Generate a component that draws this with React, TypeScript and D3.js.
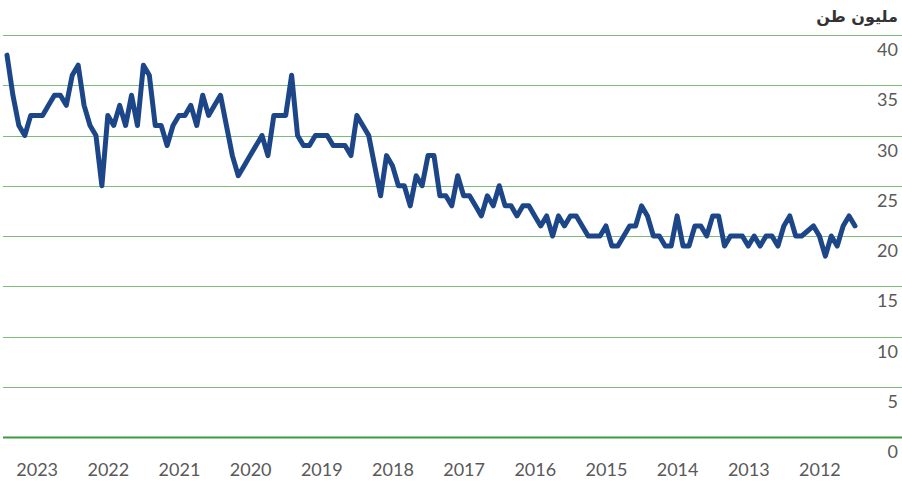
import React, { useEffect, useRef } from "react";
import * as d3 from "d3";

// monthly values, newest first: Dec 2023 back to Jan 2012 (million tonnes)
const monthlyTonnes = [
  38, 34, 31, 30, 32, 32, 32, 33, 34, 34,
  33, 36, 37, 33, 31, 30, 25, 32, 31, 33,
  31, 34, 31, 37, 36, 31, 31, 29, 31, 32,
  32, 33, 31, 34, 32, 33, 34, 31, 28, 26,
  27, 28, 29, 30, 28, 32, 32, 32, 36, 30,
  29, 29, 30, 30, 30, 29, 29, 29, 28, 32,
  31, 30, 27, 24, 28, 27, 25, 25, 23, 26,
  25, 28, 28, 24, 24, 23, 26, 24, 24, 23,
  22, 24, 23, 25, 23, 23, 22, 23, 23, 22,
  21, 22, 20, 22, 21, 22, 22, 21, 20, 20,
  20, 21, 19, 19, 20, 21, 21, 23, 22, 20,
  20, 19, 19, 22, 19, 19, 21, 21, 20, 22,
  22, 19, 20, 20, 20, 19, 20, 19, 20, 20,
  19, 21, 22, 20, 20, 20.5, 21, 20, 18, 20,
  19, 21, 22, 21,
];

const lastYear = 2023;
const yearLabels = [2023, 2022, 2021, 2020, 2019, 2018, 2017, 2016, 2015, 2014, 2013, 2012];
const yTicks = [0, 5, 10, 15, 20, 25, 30, 35, 40];
const unitLabel = "مليون طن";

const W = 902;
const H = 481;

export default function App() {
  const svgRef = useRef<SVGSVGElement>(null);

  useEffect(() => {
    const svg = d3.select(svgRef.current);
    svg.selectAll("*").remove();

    const numFont = "Lato, 'Open Sans', sans-serif";

    // x runs right-to-left in time: index 0 (newest) on the left
    const x = d3.scaleLinear()
      .domain([0, monthlyTonnes.length - 1])
      .range([7, 855]);

    const y = d3.scaleLinear()
      .domain([0, 40])
      .range([437, 35]);

    // gridlines
    svg.append("g")
      .selectAll("line")
      .data(yTicks)
      .enter()
      .append("line")
      .attr("x1", 3)
      .attr("x2", W)
      .attr("y1", d => Math.round(y(d)) + 0.5)
      .attr("y2", d => Math.round(y(d)) + 0.5)
      .attr("stroke", d => (d === 0 ? "#3f9b3c" : "#7bbd76"))
      .attr("stroke-width", d => (d === 0 ? 2 : 1));

    // y labels, right side, below their line
    svg.append("g")
      .selectAll("text")
      .data(yTicks)
      .enter()
      .append("text")
      .attr("x", 898)
      .attr("y", d => y(d) + 21)
      .attr("text-anchor", "end")
      .style("font-family", numFont)
      .style("font-size", "18px")
      .style("fill", "#595959")
      .text(d => d);

    // x axis: year labels at mid-year (July)
    const xAxis = d3.axisBottom(x)
      .tickValues(yearLabels.map(yr => (lastYear - yr) * 12 + 5))
      .tickFormat((d, i) => String(yearLabels[i]))
      .tickSize(0)
      .tickPadding(0);

    const xg = svg.append("g")
      .attr("transform", "translate(0,462)")
      .call(xAxis);
    xg.select(".domain").remove();
    xg.selectAll("text")
      .attr("dy", "0.75em")
      .style("font-family", numFont)
      .style("font-size", "18px")
      .style("fill", "#595959");

    // unit title
    svg.append("text")
      .attr("x", 898)
      .attr("y", 22)
      .attr("text-anchor", "end")
      .style("font-family", "'DejaVu Sans', sans-serif")
      .style("font-size", "16px")
      .style("font-weight", "bold")
      .style("fill", "#333")
      .text(unitLabel);

    // the line
    const line = d3.line<number>()
      .x((d, i) => x(i))
      .y(d => y(d));

    svg.append("path")
      .datum(monthlyTonnes)
      .attr("d", line)
      .attr("fill", "none")
      .attr("stroke", "#1d4689")
      .attr("stroke-width", 5)
      .attr("stroke-linejoin", "round")
      .attr("stroke-linecap", "round");
  }, []);

  return (
    <svg
      ref={svgRef}
      width={W}
      height={H}
      style={{ position: "absolute", left: 0, top: 0, background: "#fff" }}
    />
  );
}
